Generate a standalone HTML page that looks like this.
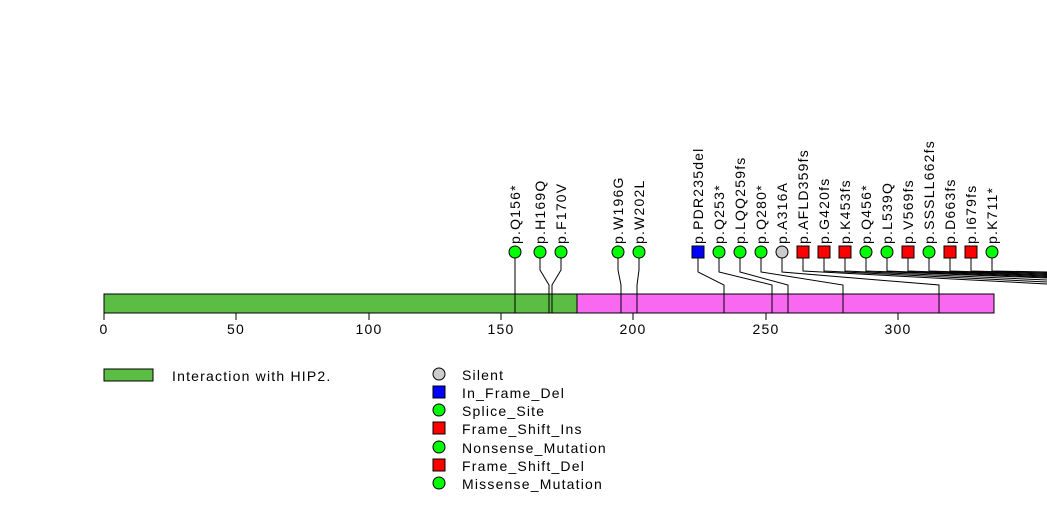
<!DOCTYPE html>
<html><head><style>body{margin:0;background:#fff}svg{display:block}text{font-family:"Liberation Sans",sans-serif;font-size:14px;fill:#000}.l text{letter-spacing:1.2px}</style></head><body>
<svg width="1047" height="524" viewBox="0 0 1047 524">
<g stroke="#000" stroke-width="1" fill="none">
<polyline points="515,258 515,313"/>
<polyline points="540,258 540,270 549,285 549,313"/>
<polyline points="561,258 561,270 552,285 552,313"/>
<polyline points="618,258 618,270 621,285 621,313"/>
<polyline points="639,258 639,270 637,285 637,313"/>
<polyline points="698,258 698,272 724,285 724,313"/>
<polyline points="719,258 719,272 772,285 772,313"/>
<polyline points="740,258 740,272 788,285 788,313"/>
<polyline points="761,258 761,272 843,285 843,313"/>
<polyline points="782,258 782,272 939,285 939,313"/>
<polyline points="803,258 803,271 1047,284"/>
<polyline points="824,258 824,271 1047,282"/>
<polyline points="845,258 845,271 1047,280"/>
<polyline points="866,258 866,271 1047,278"/>
<polyline points="887,258 887,271 1047,277"/>
<polyline points="908,258 908,271 1047,276"/>
<polyline points="929,258 929,271 1047,275"/>
<polyline points="950,258 950,271 1047,274"/>
<polyline points="971,258 971,271 1047,273"/>
<polyline points="992,258 992,271 1047,272"/>
</g>
<rect x="104" y="294" width="473" height="19" fill="#5cbd45" stroke="#000"/>
<rect x="577" y="294" width="417" height="19" fill="#f868f0" stroke="#000"/>
<g stroke="#000">
<line x1="515" y1="294" x2="515" y2="313"/><line x1="549" y1="294" x2="549" y2="313"/><line x1="552" y1="294" x2="552" y2="313"/>
<line x1="621" y1="294" x2="621" y2="313"/><line x1="637" y1="294" x2="637" y2="313"/><line x1="724" y1="294" x2="724" y2="313"/>
<line x1="772" y1="294" x2="772" y2="313"/><line x1="788" y1="294" x2="788" y2="313"/><line x1="843" y1="294" x2="843" y2="313"/><line x1="939" y1="294" x2="939" y2="313"/>
<line x1="104" y1="313" x2="104" y2="320"/><line x1="236" y1="313" x2="236" y2="320"/><line x1="369" y1="313" x2="369" y2="320"/><line x1="501" y1="313" x2="501" y2="320"/><line x1="633" y1="313" x2="633" y2="320"/><line x1="766" y1="313" x2="766" y2="320"/><line x1="898" y1="313" x2="898" y2="320"/>
</g>
<g text-anchor="middle" class="l"><text x="104" y="334">0</text><text x="236" y="334">50</text><text x="369" y="334">100</text><text x="501" y="334">150</text><text x="633" y="334">200</text><text x="766" y="334">250</text><text x="898" y="334">300</text></g>
<g stroke="#000">
<circle cx="515" cy="252" r="6" fill="#0f0"/><circle cx="540" cy="252" r="6" fill="#0f0"/><circle cx="561" cy="252" r="6" fill="#0f0"/><circle cx="618" cy="252" r="6" fill="#0f0"/><circle cx="639" cy="252" r="6" fill="#0f0"/>
<rect x="692" y="246" width="12" height="12" fill="#00f"/>
<circle cx="719" cy="252" r="6" fill="#0f0"/><circle cx="740" cy="252" r="6" fill="#0f0"/><circle cx="761" cy="252" r="6" fill="#0f0"/><circle cx="782" cy="252" r="6" fill="#ccc"/>
<rect x="797" y="246" width="12" height="12" fill="#f00"/><rect x="818" y="246" width="12" height="12" fill="#f00"/><rect x="839" y="246" width="12" height="12" fill="#f00"/>
<circle cx="866" cy="252" r="6" fill="#0f0"/><circle cx="887" cy="252" r="6" fill="#0f0"/>
<rect x="902" y="246" width="12" height="12" fill="#f00"/>
<circle cx="929" cy="252" r="6" fill="#0f0"/>
<rect x="944" y="246" width="12" height="12" fill="#f00"/><rect x="965" y="246" width="12" height="12" fill="#f00"/>
<circle cx="992" cy="252" r="6" fill="#0f0"/>
</g>
<g class="l">
<text transform="translate(520,244) rotate(-90)">p.Q156*</text>
<text transform="translate(545,244) rotate(-90)">p.H169Q</text>
<text transform="translate(566,244) rotate(-90)">p.F170V</text>
<text transform="translate(623,244) rotate(-90)">p.W196G</text>
<text transform="translate(644,244) rotate(-90)">p.W202L</text>
<text transform="translate(703,244) rotate(-90)">p.PDR235del</text>
<text transform="translate(724,244) rotate(-90)">p.Q253*</text>
<text transform="translate(745,244) rotate(-90)">p.LQQ259fs</text>
<text transform="translate(766,244) rotate(-90)">p.Q280*</text>
<text transform="translate(787,244) rotate(-90)">p.A316A</text>
<text transform="translate(808,244) rotate(-90)">p.AFLD359fs</text>
<text transform="translate(829,244) rotate(-90)">p.G420fs</text>
<text transform="translate(850,244) rotate(-90)">p.K453fs</text>
<text transform="translate(871,244) rotate(-90)">p.Q456*</text>
<text transform="translate(892,244) rotate(-90)">p.L539Q</text>
<text transform="translate(913,244) rotate(-90)">p.V569fs</text>
<text transform="translate(934,244) rotate(-90)">p.SSSLL662fs</text>
<text transform="translate(955,244) rotate(-90)">p.D663fs</text>
<text transform="translate(976,244) rotate(-90)">p.I679fs</text>
<text transform="translate(997,244) rotate(-90)">p.K711*</text>
</g>
<rect x="104" y="369" width="49" height="12" fill="#5cbd45" stroke="#000"/>
<g class="l"><text x="172" y="381">Interaction with HIP2.</text></g>
<g stroke="#000">
<circle cx="439" cy="374" r="6" fill="#ccc"/>
<rect x="433" y="386" width="12" height="12" fill="#00f"/>
<circle cx="439" cy="410" r="6" fill="#0f0"/>
<rect x="433" y="422" width="12" height="12" fill="#f00"/>
<circle cx="439" cy="447" r="6" fill="#0f0"/>
<rect x="433" y="459" width="12" height="12" fill="#f00"/>
<circle cx="439" cy="483" r="6" fill="#0f0"/>
</g>
<g class="l">
<text x="462" y="380">Silent</text>
<text x="462" y="398">In_Frame_Del</text>
<text x="462" y="416">Splice_Site</text>
<text x="462" y="434">Frame_Shift_Ins</text>
<text x="462" y="453">Nonsense_Mutation</text>
<text x="462" y="471">Frame_Shift_Del</text>
<text x="462" y="489">Missense_Mutation</text>
</g>
</svg>
</body></html>
